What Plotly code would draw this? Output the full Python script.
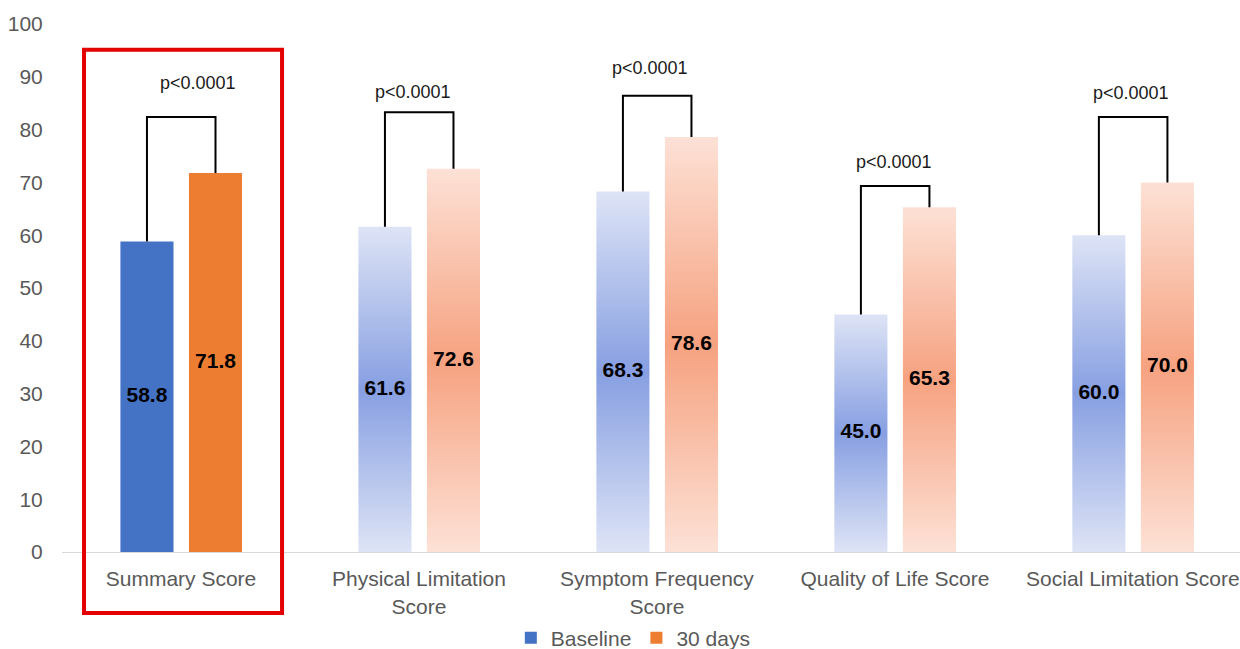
import plotly.graph_objects as go

categories = ["Summary Score", "Physical Limitation<br>Score", "Symptom Frequency<br>Score",
              "Quality of Life Score", "Social Limitation Score"]
baseline = [58.8, 61.6, 68.3, 45.0, 60.0]
day30 = [71.8, 72.6, 78.6, 65.3, 70.0]
bracket_top = [82.4, 83.3, 86.4, 69.3, 82.4]
p_labels = ["p&lt;0.0001"] * 5
p_label_y = [88.8, 87.1, 91.6, 73.9, 86.9]
series_names = ["Baseline", "30 days"]

# layout constants (positions / sizes)
BW = 0.223
OFF_B = -0.143
OFF_O = 0.145
P_XSHIFT = [17, -6, -7, -1, -2]

solid_colors = ["#4472c4", "#ed7d31"]
grad_scales = [
    [[0, "#dee4f6"], [0.5, "#879fe2"], [1, "#dee4f6"]],
    [[0, "#fde1d6"], [0.5, "#f6a280"], [1, "#fde1d6"]],
]

fig = go.Figure()

# gradient bars (categories after the first)
for s, (vals, off) in enumerate([(baseline, OFF_B), (day30, OFF_O)]):
    for i in range(1, len(categories)):
        x0 = i + off - BW / 2
        x1 = i + off + BW / 2
        fig.add_trace(go.Scatter(
            x=[x0, x1, x1, x0, x0], y=[0, 0, vals[i], vals[i], 0],
            mode="lines", line=dict(width=0), fill="toself",
            fillgradient=dict(type="vertical", colorscale=grad_scales[s]),
            showlegend=False, hoverinfo="skip"))

# bars (solid for first category, transparent elsewhere)
for s, (vals, off) in enumerate([(baseline, OFF_B), (day30, OFF_O)]):
    colors = [solid_colors[s]] + ["rgba(0,0,0,0)"] * (len(vals) - 1)
    fig.add_trace(go.Bar(
        x=list(range(len(vals))), y=vals, name=series_names[s],
        width=BW, offset=off - BW / 2,
        marker=dict(color=colors, line=dict(width=0)),
        hoverinfo="skip",
    ))

# significance brackets
for i in range(len(categories)):
    xb = i + OFF_B
    xo = i + OFF_O
    fig.add_trace(go.Scatter(
        x=[xb, xb, xo, xo], y=[baseline[i], bracket_top[i], bracket_top[i], day30[i]],
        mode="lines", line=dict(color="black", width=2),
        showlegend=False, hoverinfo="skip"))
    fig.add_annotation(x=i, y=p_label_y[i], xshift=P_XSHIFT[i], text=p_labels[i],
                       showarrow=False,
                       font=dict(family="Liberation Sans, Arial", size=18, color="#1a1a1a"))

# value labels, centred in each bar
for vals, off in [(baseline, OFF_B), (day30, OFF_O)]:
    fig.add_trace(go.Scatter(
        x=[i + off for i in range(len(vals))], y=[v / 2 for v in vals],
        mode="text", text=[f"<b>{v:.1f}</b>" for v in vals],
        textfont=dict(family="Liberation Sans, Arial", size=21, color="black"),
        showlegend=False, hoverinfo="skip"))

# red highlight box
fig.add_shape(type="rect", xref="paper", yref="paper",
              x0=0.0187, x1=0.1868, y0=-0.1155, y1=0.951,
              line=dict(color="#e30000", width=4), fillcolor="rgba(0,0,0,0)")

fig.update_layout(
    width=1240, height=649,
    margin=dict(l=62, r=0, t=24, b=97, autoexpand=False),
    plot_bgcolor="white", paper_bgcolor="white",
    barmode="overlay",
    font=dict(family="Liberation Sans, Arial", size=20, color="#595959"),
    showlegend=True,
    legend=dict(orientation="h", x=0.485, xanchor="center", y=-0.163, yanchor="middle",
                font=dict(size=21, color="#595959"), itemwidth=30),
    xaxis=dict(range=[-0.5, 4.45], tickmode="array", tickvals=list(range(len(categories))),
               ticktext=categories, showgrid=False, zeroline=False, showline=True,
               linecolor="#d9d9d9", linewidth=1, ticks="outside", ticklen=8,
               tickcolor="rgba(0,0,0,0)", tickfont=dict(size=21, color="#595959"),
               automargin=False),
    yaxis=dict(range=[0, 100], dtick=10, showgrid=False, zeroline=False, showline=False,
               ticks="outside", ticklen=14, tickcolor="rgba(0,0,0,0)",
               tickfont=dict(size=21, color="#595959"), automargin=False),
)

fig.write_html("out.html", config={"displayModeBar": False},
               post_script="document.body.style.margin='0';document.body.style.overflow='hidden';")
